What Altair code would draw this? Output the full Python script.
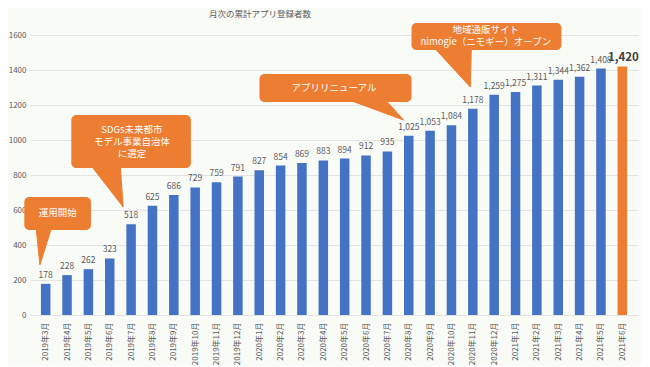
import altair as alt
import pandas as pd

# ---- data ----
months = ["2019年3月", "2019年4月", "2019年5月", "2019年6月", "2019年7月", "2019年8月",
          "2019年9月", "2019年10月", "2019年11月", "2019年12月",
          "2020年1月", "2020年2月", "2020年3月", "2020年4月", "2020年5月", "2020年6月",
          "2020年7月", "2020年8月", "2020年9月", "2020年10月", "2020年11月", "2020年12月",
          "2021年1月", "2021年2月", "2021年3月", "2021年4月", "2021年5月", "2021年6月"]
registrations = [178, 228, 262, 323, 518, 625, 686, 729, 759, 791, 827, 854, 869, 883,
                 894, 912, 935, 1025, 1053, 1084, 1178, 1259, 1275, 1311, 1344, 1362,
                 1408, 1420]

# callouts (anchored in data units: month index / registrations)
callout_text = ["運用開始", "SDGs未来都市\nモデル事業自治体\nに選定", "アプリリニューアル",
                "地域通販サイト\nnimogie（ニモギー）オープン"]
callout_left = [-1.0, 1.2, 10.01, 17.13]
callout_right = [2.12, 6.8, 17.13, 24.15]
callout_top = [674, 1143, 1377, 1669]
callout_bottom = [486, 840, 1217, 1514]
callout_label_x = [0.56, 4.04, 13.5, 20.61]
callout_first_line_y = [583, 1057, 1300, 1629]
pointer_base_left = [-0.45, 2.12, 14.14, 18.18]
pointer_base_right = [0.28, 3.49, 15.89, 19.93]
pointer_tip_x = [-0.27, 3.63, 16.76, 19.88]
pointer_tip_y = [286, 617, 1114, 1303]

BLUE = "#4472C4"
ORANGE = "#ED7D31"
GRAY = "#595959"
FONT = "Noto Sans CJK JP"

n = len(months)
bars = pd.DataFrame({
    "idx": list(range(n)),
    "month": months,
    "value": registrations,
    "kind": ["past"] * (n - 1) + ["latest"],
})

boxes = pd.DataFrame({
    "x1": callout_left, "x2": callout_right,
    "y1": callout_bottom, "y2": callout_top,
    "tx": callout_label_x, "ty": callout_first_line_y, "text": callout_text,
})

ptr_rows = []
for i in range(len(callout_text)):
    base_y = callout_bottom[i] + 15
    ptr_rows.append({"id": i, "k": 0, "px": pointer_base_left[i], "py": base_y})
    ptr_rows.append({"id": i, "k": 1, "px": pointer_tip_x[i], "py": pointer_tip_y[i]})
    ptr_rows.append({"id": i, "k": 2, "px": pointer_base_right[i], "py": base_y})
pointers = pd.DataFrame(ptr_rows)

xs = alt.Scale(domain=[-0.5, n - 0.5], nice=False, zero=False)
ys = alt.Scale(domain=[0, 1600], nice=False)

label_expr = "[" + ",".join("'" + m + "'" for m in months) + "][datum.value]"

x_axis = alt.Axis(values=list(range(n)), labelExpr=label_expr, labelAngle=270,
                  grid=False, ticks=False, domain=False, title=None,
                  labelFontSize=8, labelColor=GRAY, labelFont=FONT, labelPadding=7,
                  labelOverlap=False)
y_axis = alt.Axis(values=list(range(0, 1601, 200)), format="d", grid=True,
                  gridColor="#E3E3E3", ticks=False, domain=False, title=None,
                  labelFontSize=8, labelColor=GRAY, labelFont=FONT, labelPadding=4)


def X(field):
    return alt.X(field, scale=xs, axis=x_axis)


def Y(field):
    return alt.Y(field, scale=ys, axis=y_axis)


base = alt.Chart(bars)

bar_layer = base.mark_bar(size=9.5).encode(
    x=X("idx:Q"),
    y=Y("value:Q"),
    color=alt.Color("kind:N", scale=alt.Scale(domain=["past", "latest"], range=[BLUE, ORANGE]),
                    legend=None),
)

value_labels = base.transform_filter(alt.datum.kind == "past").mark_text(
    baseline="bottom", dy=-4, fontSize=8.5, color=GRAY, font=FONT
).encode(
    x=X("idx:Q"),
    y=Y("value:Q"),
    text=alt.Text("value:Q", format=","),
)

last_label = base.transform_filter(alt.datum.kind == "latest").mark_text(
    baseline="bottom", dy=-4, dx=1, fontSize=11.5, fontWeight="bold", color="#404040", font=FONT
).encode(
    x=X("idx:Q"),
    y=Y("value:Q"),
    text=alt.Text("value:Q", format=","),
)

pointer_layer = alt.Chart(pointers).mark_line(
    fill=ORANGE, stroke=ORANGE, strokeWidth=1
).encode(
    x=X("px:Q"),
    y=Y("py:Q"),
    detail="id:N",
    order="k:Q",
)

box_layer = alt.Chart(boxes).mark_rect(color=ORANGE, cornerRadius=5).encode(
    x=X("x1:Q"),
    x2="x2:Q",
    y=Y("y1:Q"),
    y2="y2:Q",
)

box_text = alt.Chart(boxes).mark_text(
    color="white", fontSize=9.5, font=FONT, lineBreak="\n", lineHeight=12,
    align="center", baseline="middle"
).encode(
    x=X("tx:Q"),
    y=Y("ty:Q"),
    text="text:N",
)

chart = alt.layer(
    bar_layer, value_labels, last_label, pointer_layer, box_layer, box_text
).properties(
    width=608,
    height=280,
    title=alt.Title("月次の累計アプリ登録者数", fontSize=8.5, color=GRAY, font=FONT,
                    fontWeight="normal", dx=-74, offset=4),
    autosize=alt.AutoSizeParams(type="none"),
    padding={"left": 22, "top": 27, "right": 4, "bottom": 51},
    background="#F9FBF7",
).configure_view(stroke=None)

chart.save("out.html", embed_options={"renderer": "svg", "actions": False})
